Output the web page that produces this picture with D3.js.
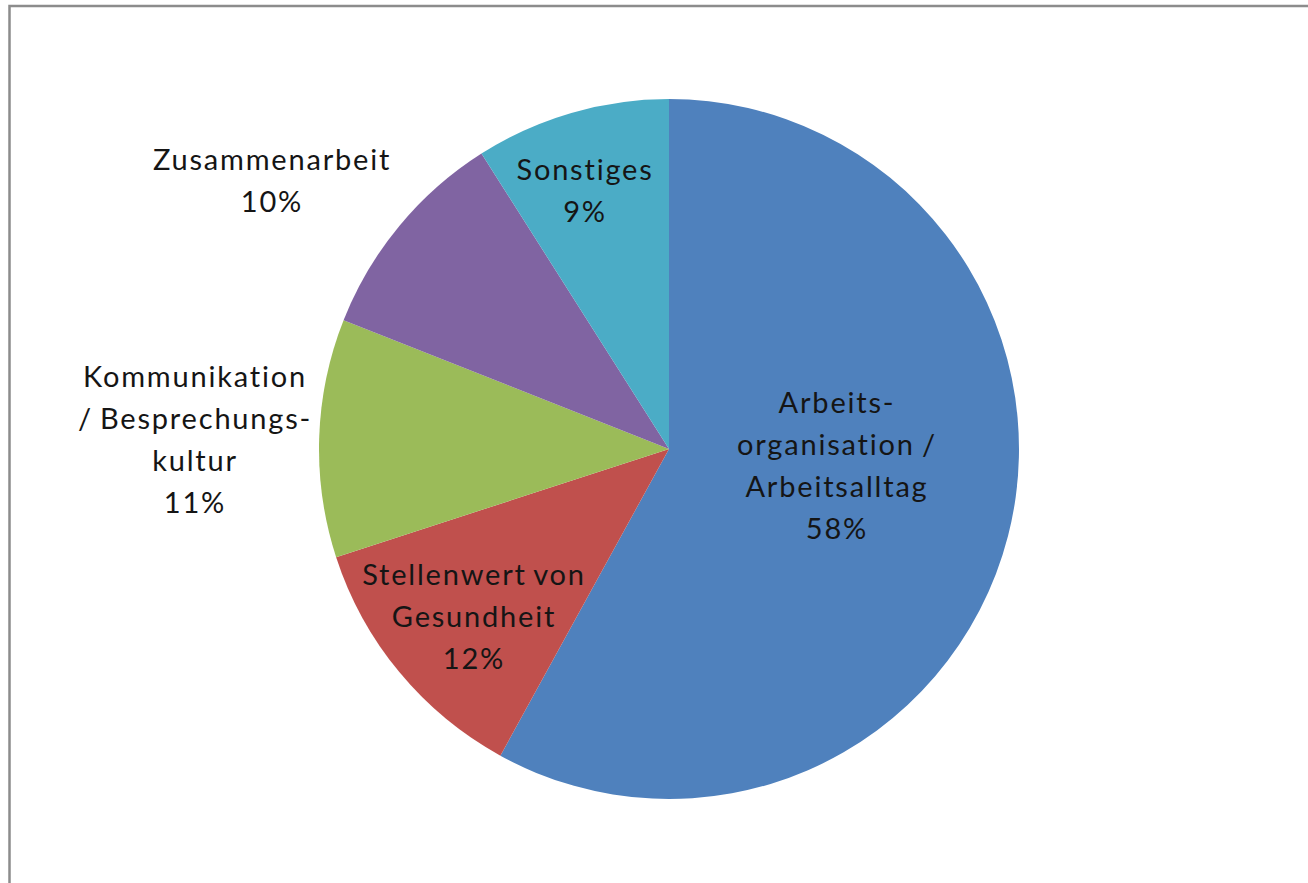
<!DOCTYPE html>
<html>
<head>
<meta charset="utf-8">
<script src="https://cdn.jsdelivr.net/npm/d3@7"></script>
<style>
  html, body { margin: 0; padding: 0; background: #fff; }
  svg { display: block; }
</style>
</head>
<body>
<svg id="chart" width="1308" height="883"></svg>
<script>
// slice order, clockwise from 12 o'clock
var categories = ["Arbeitsorganisation / Arbeitsalltag", "Stellenwert von Gesundheit",
                  "Kommunikation / Besprechungskultur", "Zusammenarbeit", "Sonstiges"];
var values = [58, 12, 11, 10, 9];
var labelLines = [
    ["Arbeits-", "organisation /", "Arbeitsalltag"],
    ["Stellenwert von", "Gesundheit"],
    ["Kommunikation", "/ Besprechungs-", "kultur"],
    ["Zusammenarbeit"],
    ["Sonstiges"]
];
var colors = ["#4f81bd", "#c0504d", "#9bbb59", "#8064a2", "#4bacc6"];

// label anchor (centre of the text block) relative to the pie centre
var labelPos = [[168, 17], [-195, 168], [-474, -9], [-397, -268], [-84, -258]];

var svg = d3.select("#chart");
var cx = 669, cy = 449, radius = 350;
var lineHeight = 42;

// frame of the pasted chart object
svg.append("path")
    .attr("d", "M9.5,883 L9.5,6 L1308,6")
    .attr("fill", "none")
    .attr("stroke", "#8c8c8c")
    .attr("stroke-width", 2.5);

var pie = d3.pie().sort(null).value(function(d) { return d; });
var arc = d3.arc().innerRadius(0).outerRadius(radius);
var arcs = pie(values);

var g = svg.append("g").attr("transform", "translate(" + cx + "," + cy + ")");

g.selectAll("path.slice")
    .data(arcs)
  .enter().append("path")
    .attr("class", "slice")
    .attr("d", arc)
    .attr("fill", function(d, i) { return colors[i]; });

var labels = g.selectAll("text.label")
    .data(arcs)
  .enter().append("text")
    .attr("class", "label")
    .attr("text-anchor", "middle")
    .attr("font-family", "Lato, 'Open Sans', sans-serif")
    .attr("font-size", 29)
    .attr("letter-spacing", 1.8)
    .attr("word-spacing", -2)
    .attr("fill", "#151515")
    .attr("transform", function(d, i) {
        return "translate(" + labelPos[i][0] + "," + labelPos[i][1] + ")";
    });

labels.each(function(d, i) {
    var lines = labelLines[i].concat([values[i] + "%"]);
    var top = -(lines.length - 1) * lineHeight / 2;
    d3.select(this).selectAll("tspan")
        .data(lines)
      .enter().append("tspan")
        .attr("x", 0)
        .attr("y", function(l, j) { return top + j * lineHeight; })
        .attr("dy", "0.35em")
        .text(function(l) { return l; });
});
</script>
</body>
</html>
